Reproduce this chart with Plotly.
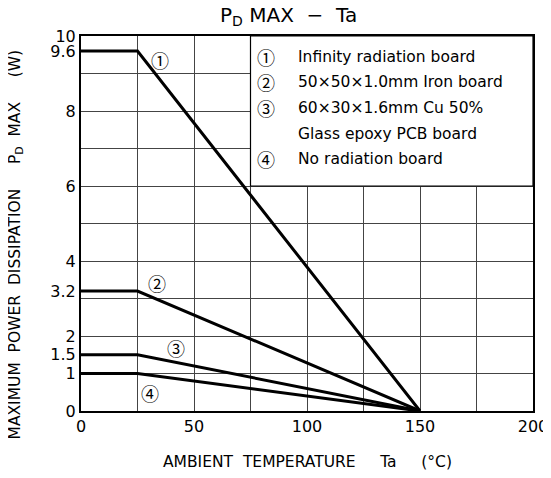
import plotly.graph_objects as go

# Data
temps = [0, 25, 150]
curve1 = [9.6, 9.6, 0]
curve2 = [3.2, 3.2, 0]
curve3 = [1.5, 1.5, 0]
curve4 = [1.0, 1.0, 0]
curves = [curve1, curve2, curve3, curve4]
marks = ["①", "②", "③", "④"]
mark_pos = [(35, 9.36), (33.5, 3.42), (42, 1.68), (30.5, 0.48)]

legend_lines = [
    ("①", "Infinity radiation board"),
    ("②", "50×50×1.0mm Iron board"),
    ("③", "60×30×1.6mm Cu 50%"),
    ("", "Glass epoxy PCB board"),
    ("④", "No radiation board"),
]
legend_y = [9.44, 8.77, 8.08, 7.39, 6.72]

y_ticks = [0, 1, 1.5, 2, 3.2, 4, 6, 8, 9.6, 10]
y_ticktext = ["0", "1", "1.5", "2", "3.2", "4", "6", "8", "9.6", "10"]
x_ticks = [0, 50, 100, 150, 200]

FONT = "DejaVu Sans, sans-serif"
CIRC = "Noto Sans CJK JP, DejaVu Sans, sans-serif"

fig = go.Figure()
for c in curves:
    fig.add_trace(go.Scatter(x=temps, y=c, mode="lines",
                             line=dict(color="black", width=3), showlegend=False,
                             hoverinfo="skip"))

# legend box
fig.add_shape(type="rect", x0=75, x1=200, y0=6, y1=10, xref="x", yref="y",
              fillcolor="white", line=dict(color="black", width=1.2), layer="between")

annotations = []
for m, (mx, my) in zip(marks, mark_pos):
    annotations.append(dict(x=mx, y=my, text=m, showarrow=False, xref="x", yref="y",
                            font=dict(size=18, color="black", family=CIRC)))
for (m, t), ly in zip(legend_lines, legend_y):
    if m:
        annotations.append(dict(x=82, y=ly, text=m, showarrow=False, xref="x", yref="y",
                                font=dict(size=18, color="black", family=CIRC)))
    annotations.append(dict(x=95, y=ly, text=t, showarrow=False, xref="x", yref="y",
                            xanchor="left",
                            font=dict(size=15.5, color="black", family=FONT)))

# title and axis titles
annotations.append(dict(x=0.46, y=1.053, xref="paper", yref="paper",
                        text="P<sub>D</sub> MAX  −  Ta", showarrow=False,
                        xanchor="center", yanchor="middle",
                        font=dict(size=20, color="black", family=FONT)))
annotations.append(dict(x=0.502, y=-0.136, xref="paper", yref="paper",
                        text="AMBIENT  TEMPERATURE     Ta     (°C)", showarrow=False,
                        xanchor="center", yanchor="middle",
                        font=dict(size=15.5, color="black", family=FONT)))
annotations.append(dict(x=-0.143, y=0.445, xref="paper", yref="paper", textangle=-90,
                        text="MAXIMUM  POWER  DISSIPATION     P<sub>D</sub>  MAX     (W)",
                        showarrow=False, xanchor="center", yanchor="middle",
                        font=dict(size=15.5, color="black", family=FONT)))

# page body has an 8px margin, so size the figure to fill the rest of the window
fig.update_layout(
    width=543, height=470,
    margin=dict(l=73, r=18, t=28, b=67),
    paper_bgcolor="white", plot_bgcolor="white",
    font=dict(family=FONT, color="black"),
    annotations=annotations,
)
fig.update_xaxes(range=[0, 200], tickvals=x_ticks, ticks="", showgrid=False,
                 automargin=False,
                 zeroline=False, showline=True, linecolor="black", linewidth=2, mirror=True,
                 tickfont=dict(size=16, family=FONT),
                 minor=dict(dtick=25, tick0=0, showgrid=True, gridcolor="#444", gridwidth=1))
fig.update_yaxes(range=[0, 10], tickvals=y_ticks, ticktext=y_ticktext, ticks="",
                 automargin=False,
                 showgrid=False, zeroline=False, showline=True, linecolor="black",
                 linewidth=2, mirror=True, tickfont=dict(size=16, family=FONT),
                 minor=dict(dtick=1, tick0=0, showgrid=True, gridcolor="#444", gridwidth=1))

fig.write_html("out.html")
